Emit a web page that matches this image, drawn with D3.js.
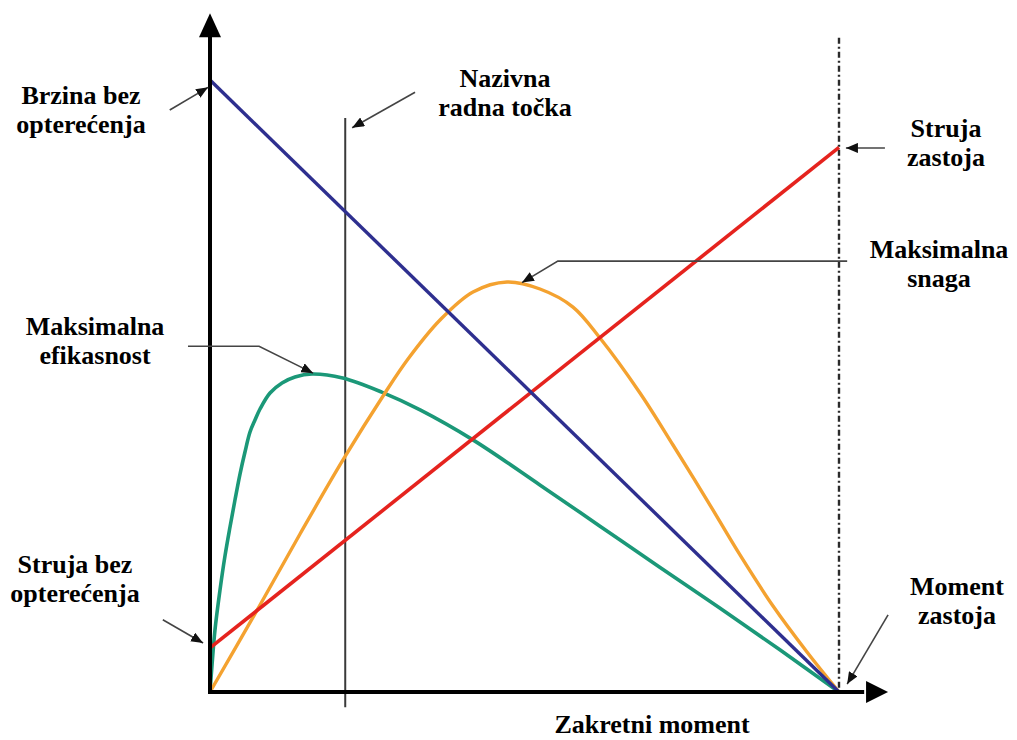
<!DOCTYPE html>
<html><head><meta charset="utf-8">
<script src="https://cdn.jsdelivr.net/npm/d3@7"></script>
<style>body{margin:0;background:#fff}</style>
</head><body>
<svg id="c" width="1017" height="740"></svg>
<script>
// ---- data (torque 0..100 = stall torque, values in relative units) ----
const lineTorque = [0, 100];
const speedValues = [100, 0];          // Brzina
const currentValues = [7.2, 89];       // Struja
const powerTorque = [0, 7.15, 14.31, 21.14, 27.82, 31.48, 36.57, 41.81, 47.22, 52.46, 57.71, 62.0, 68.36, 73.61, 79.01, 84.26, 89.51, 94.91, 100];
const powerValues = [0, 12.75, 25.82, 37.91, 48.86, 54.41, 60.78, 65.36, 66.99, 65.85, 62.9, 57.84, 48.86, 40.36, 31.37, 22.39, 14.05, 6.54, 0];
const effTorque = [0, 0.32, 0.79, 1.59, 2.38, 3.18, 3.97, 4.77, 5.56, 6.36, 7.15, 7.95, 9.54, 11.45, 13.51, 16.22, 21.1, 27.3, 33.4, 41.8, 52.5, 62.0, 71.5, 81.1, 90.6, 100];
const effValues = [0, 4.41, 10.13, 16.67, 22.22, 26.96, 31.37, 35.62, 39.22, 42.48, 44.44, 46.24, 48.86, 50.49, 51.47, 51.96, 51.3, 49.0, 46.1, 41.2, 33.8, 27.1, 20.4, 13.7, 6.9, 0];
const nominalTorque = 21.5;
const stallTorque = 100;
const labelTexts = [
  ["Brzina bez", "opterećenja"],
  ["Nazivna", "radna točka"],
  ["Struja", "zastoja"],
  ["Maksimalna", "snaga"],
  ["Maksimalna", "efikasnost"],
  ["Struja bez", "opterećenja"],
  ["Moment", "zastoja"]
];
const axisTitle = "Zakretni moment";

// ---- layout ----
const svg = d3.select("#c");
const x = d3.scaleLinear().domain([0, 100]).range([210, 839]);
const y = d3.scaleLinear().domain([0, 100]).range([692, 80]);

const defs = svg.append("defs");
defs.append("marker").attr("id", "ah").attr("markerUnits", "userSpaceOnUse")
  .attr("viewBox", "0 0 12 10").attr("refX", 12).attr("refY", 5)
  .attr("markerWidth", 12).attr("markerHeight", 10).attr("orient", "auto")
  .append("path").attr("d", "M0,0L12,5L0,10Z").attr("fill", "#111");

// curves
const g = svg.append("g");
const line = d3.line().x(d => x(d[0])).y(d => y(d[1]));
const smooth = d3.line().x(d => x(d[0])).y(d => y(d[1])).curve(d3.curveCatmullRom.alpha(0.5));

// nominal operating point line
g.append("line").attr("x1", x(nominalTorque)).attr("x2", x(nominalTorque))
  .attr("y1", y(93.8)).attr("y2", y(-2.5)).attr("stroke", "#3a3a3a").attr("stroke-width", 2);
// stall dash-dot line
g.append("line").attr("x1", x(stallTorque)).attr("x2", x(stallTorque))
  .attr("y1", y(106.9)).attr("y2", y(0)).attr("stroke", "#2a2a2a").attr("stroke-width", 2.4)
  .attr("stroke-dasharray", "6,3,2,3");

g.append("path").datum(effTorque.map((t, i) => [t, effValues[i]])).attr("d", smooth)
  .attr("fill", "none").attr("stroke", "#1b9878").attr("stroke-width", 3.6);
g.append("path").datum(powerTorque.map((t, i) => [t, powerValues[i]])).attr("d", smooth)
  .attr("fill", "none").attr("stroke", "#f4a230").attr("stroke-width", 3.4);
g.append("path").datum(lineTorque.map((t, i) => [t, currentValues[i]])).attr("d", line)
  .attr("fill", "none").attr("stroke", "#e5231e").attr("stroke-width", 3.6);
g.append("path").datum(lineTorque.map((t, i) => [t, speedValues[i]])).attr("d", line)
  .attr("fill", "none").attr("stroke", "#2e2f8f").attr("stroke-width", 3.4);

// axes with arrows
const ax = svg.append("g");
ax.append("line").attr("x1", x(0)).attr("x2", x(0)).attr("y1", y(0) + 2).attr("y2", y(108)).attr("stroke", "#000").attr("stroke-width", 4);
ax.append("line").attr("x1", x(0) - 2).attr("x2", x(104)).attr("y1", y(0)).attr("y2", y(0)).attr("stroke", "#000").attr("stroke-width", 4);
ax.append("path").attr("d", `M${x(0)},${y(110.9)}L${x(0) - 11},${y(107)}L${x(0) + 11},${y(107)}Z`).attr("fill", "#000");
ax.append("path").attr("d", `M${x(107.8)},${y(0)}L${x(104.3)},${y(0) - 11}L${x(104.3)},${y(0) + 11}Z`).attr("fill", "#000");

// annotation leaders (data coords)
const leaders = [
  [[-6.4, 95.1], [-0.3, 98.8]],
  [[32.6, 98.0], [22.6, 92.2]],
  [[107.3, 88.9], [101.1, 88.9]],
  [[101.3, 70.4], [55.3, 70.4], [49.6, 66.9]],
  [[-3.5, 56.5], [7.8, 56.5], [16.4, 52.1]],
  [[-7.5, 11.8], [-1.1, 8.0]],
  [[107.8, 12.6], [101.3, 1.3]]
];
const ann = svg.append("g");
leaders.forEach(pts => {
  ann.append("path").attr("d", line(pts)).attr("fill", "none")
    .attr("stroke", "#444").attr("stroke-width", 1.6).attr("marker-end", "url(#ah)");
});

// labels
const labelPos = [[81, 104], [505, 87], [946, 137], [939, 258], [95, 335], [75, 573], [957, 595]];
const txt = svg.append("g").attr("font-family", "'Liberation Serif','Times New Roman',serif")
  .attr("font-weight", "bold").attr("font-size", 26).attr("fill", "#000").attr("text-anchor", "middle");
labelTexts.forEach((lines, i) => {
  const t = txt.append("text").attr("x", labelPos[i][0]).attr("y", labelPos[i][1]);
  lines.forEach((s, j) => t.append("tspan").attr("x", labelPos[i][0]).attr("dy", j ? 29 : 0).text(s));
});
txt.append("text").attr("x", 652).attr("y", 733).text(axisTitle);
</script>
</body></html>
